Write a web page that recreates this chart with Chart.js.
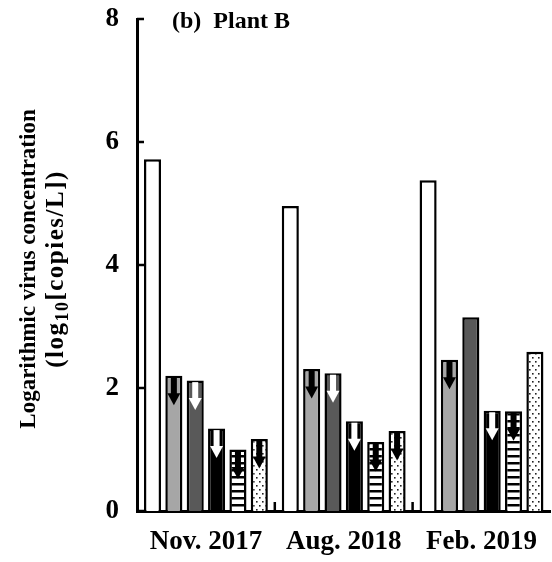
<!DOCTYPE html>
<html>
<head>
    <meta charset="utf-8">
    <title>Plant B virus concentration</title>
    <style>
        body { margin: 0; background: #fff; }
        #wrap { width: 552px; height: 562px; }
    </style>
</head>
<body>
    <div id="wrap"><canvas id="myChart"></canvas></div>
    <script src="https://cdn.jsdelivr.net/npm/chart.js"></script>
    <script>
        // sampling campaigns
        const categories = ['Nov. 2017', 'Aug. 2018', 'Feb. 2019'];
        const yTicks = [0, 2, 4, 6, 8];

        // log10 concentrations, one array per virus
        const whiteVals = [5.72, 4.96, 5.38];
        const lightVals = [2.20, 2.31, 2.46];
        const darkVals = [2.12, 2.24, 3.15];
        const blackVals = [1.34, 1.46, 1.63];
        const stripeVals = [1.00, 1.12, 1.62];
        const dotVals = [1.17, 1.30, 2.59];

        // 1 = below the quantification limit (arrow)
        const whiteBelow = [0, 0, 0];
        const lightBelow = [1, 1, 1];
        const darkBelow = [1, 1, 0];
        const blackBelow = [1, 1, 1];
        const stripeBelow = [1, 1, 1];
        const dotBelow = [1, 1, 0];

        const FONT = '"Liberation Serif", "Times New Roman", serif';

        function makePattern(kind) {
            const c = document.createElement('canvas');
            const g = c.getContext('2d');
            if (kind === 'stripes') {
                c.width = 8; c.height = 7;
                g.fillStyle = '#fff';
                g.fillRect(0, 0, 8, 7);
                g.fillStyle = '#000';
                g.fillRect(0, 0, 8, 2.5);
            } else {
                c.width = 6; c.height = 8;
                g.fillStyle = '#fff';
                g.fillRect(0, 0, 6, 8);
                g.fillStyle = '#222';
                g.fillRect(1, 1, 1.6, 1.6);
                g.fillRect(4, 5, 1.6, 1.6);
            }
            return g.createPattern(c, 'repeat');
        }

        function series(values, fill, below, arrowColor) {
            return {
                data: values,
                backgroundColor: fill,
                borderColor: '#000',
                borderWidth: 2.5,
                categoryPercentage: 0.93,
                barPercentage: 0.8,
                below: below,
                arrowColor: arrowColor
            };
        }

        // down arrows on bars that are only upper limits
        const arrowPlugin = {
            id: 'arrows',
            afterDatasetsDraw(chart) {
                const ctx = chart.ctx;
                chart.data.datasets.forEach((ds, di) => {
                    const meta = chart.getDatasetMeta(di);
                    meta.data.forEach((bar, i) => {
                        if (!ds.below[i]) return;
                        const x = bar.x, top = bar.y + 1.5;
                        ctx.save();
                        ctx.fillStyle = ds.arrowColor;
                        ctx.fillRect(x - 3, top, 6, 18);
                        ctx.beginPath();
                        ctx.moveTo(x - 6.5, top + 16);
                        ctx.lineTo(x + 6.5, top + 16);
                        ctx.lineTo(x, top + 28);
                        ctx.closePath();
                        ctx.fill();
                        ctx.restore();
                    });
                });
            }
        };

        // inward ticks, panel title and y axis title
        const decorPlugin = {
            id: 'decor',
            afterDraw(chart) {
                const ctx = chart.ctx;
                const area = chart.chartArea;
                const ys = chart.scales.y, xs = chart.scales.x;
                ctx.save();
                ctx.fillStyle = '#000';
                yTicks.forEach(v => {
                    const y = ys.getPixelForValue(v);
                    ctx.fillRect(area.left, y - 1.25, 7, 2.5);
                });
                for (let i = 0; i < categories.length - 1; i++) {
                    const x = xs.getPixelForValue(i + 0.5);
                    ctx.fillRect(x - 1.25, area.bottom - 9, 2.5, 9);
                }

                ctx.font = 'bold 24px ' + FONT;
                ctx.textBaseline = 'middle';
                ctx.textAlign = 'left';
                ctx.fillText('(b)  Plant B', 172, 22);

                // rotated axis title, second line has a subscript
                ctx.translate(29, 269);
                ctx.rotate(-Math.PI / 2);
                ctx.textAlign = 'center';
                ctx.font = 'bold 23px ' + FONT;
                ctx.fillText('Logarithmic virus concentration', 0, 0);

                ctx.letterSpacing = '1.5px';
                const big = 'bold 25px ' + FONT, small = 'bold 18px ' + FONT;
                const parts = [['(log', big, 0], ['10', small, 6], ['[copies/L])', big, 0]];
                let total = 0;
                parts.forEach(p => { ctx.font = p[1]; total += ctx.measureText(p[0]).width; });
                let cx = -total / 2;
                ctx.textAlign = 'left';
                parts.forEach(p => {
                    ctx.font = p[1];
                    ctx.fillText(p[0], cx, 28 + p[2]);
                    cx += ctx.measureText(p[0]).width;
                });
                ctx.restore();
            }
        };

        const data = {
            labels: categories,
            datasets: [
                series(whiteVals, '#ffffff', whiteBelow, '#000'),
                series(lightVals, '#a6a6a6', lightBelow, '#000'),
                series(darkVals, '#595959', darkBelow, '#fff'),
                series(blackVals, '#000000', blackBelow, '#fff'),
                series(stripeVals, makePattern('stripes'), stripeBelow, '#000'),
                series(dotVals, makePattern('dots'), dotBelow, '#000')
            ]
        };

        const options = {
            responsive: true,
            maintainAspectRatio: false,
            animation: false,
            layout: { padding: { top: 19, right: 0, bottom: 0, left: 0 } },
            plugins: {
                legend: { display: false },
                tooltip: { enabled: false }
            },
            scales: {
                x: {
                    grid: { display: false, drawTicks: false },
                    border: { display: true, color: '#000', width: 3 },
                    ticks: {
                        color: '#000',
                        padding: 15,
                        maxRotation: 0,
                        font: { family: FONT, size: 27, weight: 'bold' }
                    },
                    afterFit(scale) { scale.height = 51; }
                },
                y: {
                    min: 0,
                    max: 8,
                    grid: { display: false, drawTicks: false },
                    border: { display: true, color: '#000', width: 3 },
                    ticks: {
                        stepSize: 2,
                        color: '#000',
                        padding: 18,
                        font: { family: FONT, size: 27, weight: 'bold' }
                    },
                    afterFit(scale) {
                        scale.width = 137;
                        scale.paddingTop = 0;
                        scale.paddingBottom = 0;
                    }
                }
            }
        };

        const ctx = document.getElementById('myChart').getContext('2d');
        const myChart = new Chart(ctx, {
            type: 'bar',
            data: data,
            options: options,
            plugins: [arrowPlugin, decorPlugin]
        });
    </script>
</body>
</html>
